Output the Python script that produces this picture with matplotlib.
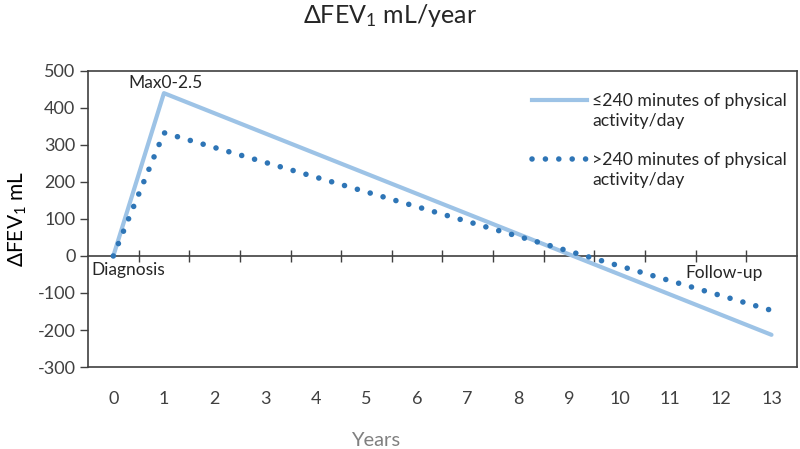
import matplotlib.pyplot as plt
from matplotlib.lines import Line2D

plt.rcParams.update({
    "font.family": ["Lato", "DejaVu Sans"],
    "mathtext.fontset": "custom",
    "mathtext.rm": "Lato",
    "mathtext.it": "Lato:italic",
    "axes.unicode_minus": False,
    "font.size": 13,
    "text.color": "#262626",
    "axes.edgecolor": "#404040",
    "xtick.color": "#404040",
    "ytick.color": "#404040",
})

# data
years = [0, 1, 13]
year_labels = [str(i) for i in range(14)]
low_activity = [0, 440, -213]    # <=240 min/day
high_activity = [0, 333, -147]   # >240 min/day

LIGHT = "#9DC3E6"
DARK = "#2E75B6"
DOTS = (0, (0.01, 2.4))

fig = plt.figure(figsize=(8, 4.49), dpi=100)
ax = fig.add_axes([0.11, 0.1826, 0.886, 0.6594])

ax.plot(years, low_activity, color=LIGHT, lw=3, solid_capstyle="round", zorder=3)
ax.plot(years, high_activity, color=DARK, lw=4,
        linestyle=DOTS, dash_capstyle="round", zorder=4)

ax.set_xlim(-0.5, 13.5)
ax.set_ylim(-300, 500)
ax.set_yticks(range(-300, 501, 100))
ax.set_xticks(range(14))
ax.set_xticklabels(year_labels)
ax.tick_params(axis="x", length=0, pad=17, labelsize=13)
ax.tick_params(axis="y", length=6, width=1, labelsize=13, pad=3)
for sp in ax.spines.values():
    sp.set_linewidth(1.2)

# zero line with category divider ticks
zero_axis = ax.secondary_xaxis(300 / 800)
zero_axis.set_xticks([i + 0.5 for i in range(13)])
zero_axis.tick_params(direction="inout", length=9, width=1, labelbottom=False,
                      labeltop=False, color="#404040")
zero_axis.spines["bottom"].set_linewidth(1.2)
zero_axis.spines["bottom"].set_color("#404040")

ax.set_ylabel("ΔFEV$_1$ mL", fontsize=15, labelpad=6)
fig.text(0.469, 1 - 440 / 449, "Years", fontsize=14.5, color="#808080",
         ha="center", va="center")
fig.text(0.488, 0.965, "ΔFEV$_1$ mL/year", fontsize=18, ha="center", va="center")

ax.text(0.3, 445, "Max0-2.5", fontsize=12.5, va="bottom", ha="left")
ax.text(-0.43, -15, "Diagnosis", fontsize=12.5, va="top", ha="left")
ax.text(11.3, -25, "Follow-up", fontsize=12.5, va="top", ha="left")

blank = Line2D([], [], color="none")
handles = [
    Line2D([], [], color=LIGHT, lw=3),
    blank,
    blank,
    Line2D([], [], color=DARK, lw=4, linestyle=DOTS, dash_capstyle="round"),
    blank,
]
labels = ["≤240 minutes of physical", "activity/day", " ",
          ">240 minutes of physical", "activity/day"]
ax.legend(handles, labels, loc="upper left", bbox_to_anchor=(0.654, 1 - 84 / 449),
          bbox_transform=fig.transFigure, frameon=False, fontsize=12.7,
          handlelength=3.1, handletextpad=0.3, labelspacing=0.22, borderpad=0)

fig.savefig("out.png", dpi=100)
